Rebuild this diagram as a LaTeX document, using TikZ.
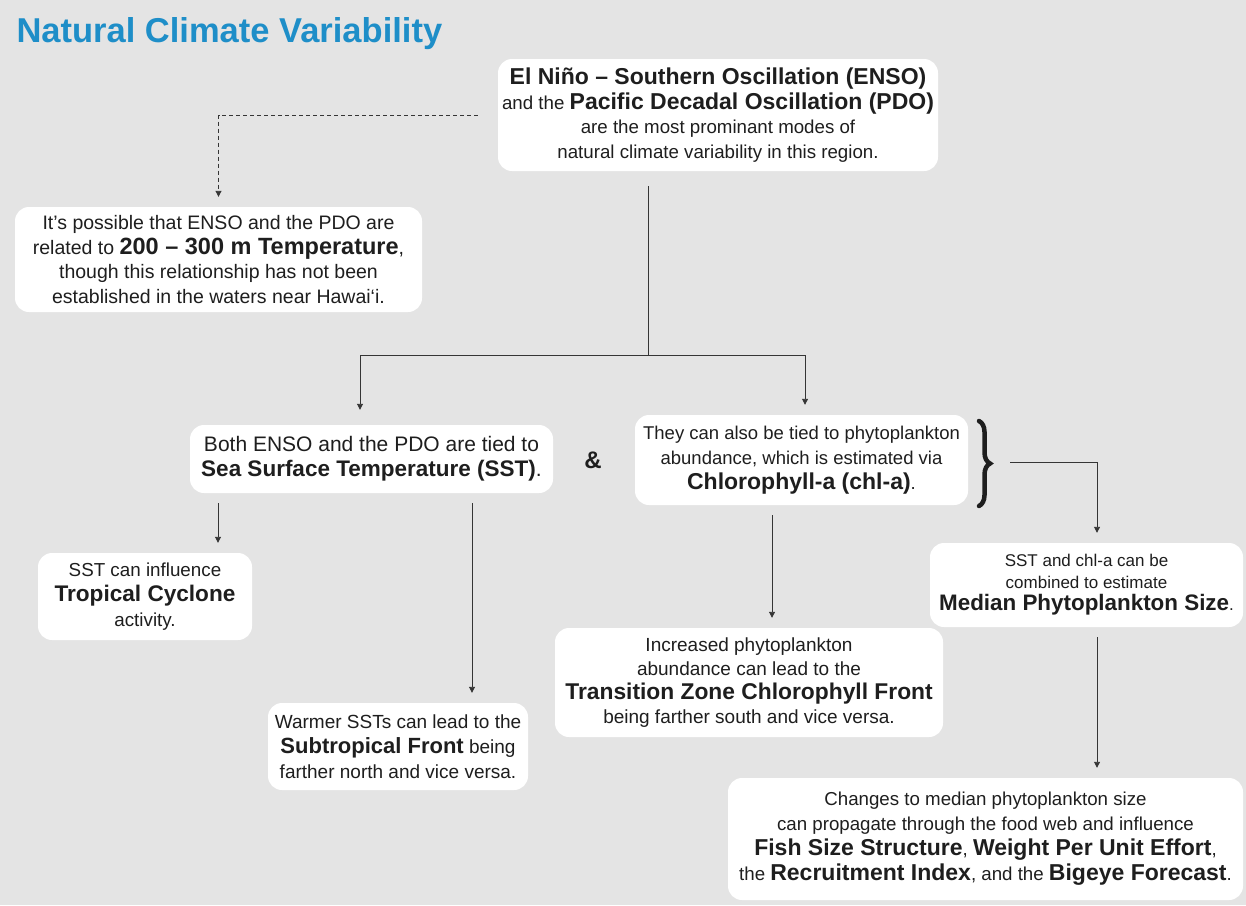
\documentclass[tikz,border=0pt]{standalone}
\usepackage{fontspec}
\setmainfont{Liberation Sans}
\usetikzlibrary{arrows.meta,decorations.pathreplacing}
\definecolor{bg}{RGB}{228,228,228}
\definecolor{titleblue}{RGB}{30,142,200}
\definecolor{ink}{RGB}{30,30,30}
% bold emphasis at a given size
\newcommand\hb[2]{{\bfseries\fontsize{#1}{#1}\selectfont #2}}

\begin{document}
\begin{tikzpicture}[x=1pt,y=-1pt,
  box/.style={fill=white, rounded corners=14pt, align=center, inner sep=0pt, text=ink},
  link/.style={draw=ink!90, line width=0.9pt},
  tip/.style={-{Triangle[width=6pt,length=6pt]}},
  arr/.style={link, tip, shorten <=10pt, shorten >=10pt}]
\fill[bg] (0,0) rectangle (1246,905);
\useasboundingbox (0,0) rectangle (1246,905);

\node[anchor=west, text=titleblue, font=\bfseries\fontsize{34.5}{40}\selectfont] (title) at (13,34) {Natural Climate Variability};

\node[box, minimum width=440pt, minimum height=112pt, font=\fontsize{18.7}{24.5}\selectfont] (enso) at (718,115)
  {\hb{23}{El Niño – Southern Oscillation (ENSO)}\\ and the \hb{23}{Pacific Decadal Oscillation (PDO)}\\ are the most prominant modes of\\ natural climate variability in this region.};

\node[box, minimum width=407pt, minimum height=105pt, font=\fontsize{19.5}{24.5}\selectfont] (deep) at (218.5,259.5)
  {It’s possible that ENSO and the PDO are\\ related to \hb{23.5}{200 – 300 m Temperature},\\ though this relationship has not been\\ established in the waters near Hawai‘i.};

\node[box, minimum width=363pt, minimum height=68pt, font=\fontsize{21}{25}\selectfont] (sst) at (371.5,459)
  {Both ENSO and the PDO are tied to\\ \hb{22.5}{Sea Surface Temperature (SST)}.};

\node[font=\bfseries\fontsize{24}{28}\selectfont, text=ink] (amp) at (593,460) {\&};

\node[box, minimum width=333pt, minimum height=90pt, font=\fontsize{18.5}{25}\selectfont] (chl) at (801.5,460)
  {They can also be tied to phytoplankton\\ abundance, which is estimated via\\ \hb{23}{Chlorophyll-a (chl-a)}.};

\node[box, minimum width=313pt, minimum height=84pt, font=\fontsize{17}{22}\selectfont] (med) at (1086.5,585)
  {SST and chl-a can be\\ combined to estimate\\ \hb{22.4}{Median Phytoplankton Size}.};

\node[box, minimum width=214pt, minimum height=87pt, font=\fontsize{18.8}{25}\selectfont] (tc) at (145,596.5)
  {SST can influence\\ \hb{22.6}{Tropical Cyclone}\\ activity.};

\node[box, minimum width=388pt, minimum height=109pt, font=\fontsize{19}{24}\selectfont] (tzcf) at (749,682.5)
  {Increased phytoplankton\\ abundance can lead to the\\ \hb{22.8}{Transition Zone Chlorophyll Front}\\ being farther south and vice versa.};

\node[box, minimum width=260pt, minimum height=87pt, font=\fontsize{19}{25}\selectfont] (stf) at (398,746.5)
  {Warmer SSTs can lead to the\\ \hb{22}{Subtropical Front} being\\ farther north and vice versa.};

\node[box, minimum width=515pt, minimum height=122pt, font=\fontsize{18.7}{25}\selectfont] (fish) at (985.5,839)
  {Changes to median phytoplankton size\\ can propagate through the food web and influence\\ \hb{23}{Fish Size Structure}, \hb{23}{Weight Per Unit Effort},\\ the \hb{23}{Recruitment Index}, and the \hb{23}{Bigeye Forecast}.};

% heavy curly brace grouping the two tied boxes
\draw[ink, line width=4.5pt, line cap=round, decorate, decoration={brace, amplitude=11pt}] (979,421) -- (979,506);
\coordinate (btip) at (1010,462);

% connectors
\draw[link, dashed, dash pattern=on 4pt off 3pt, tip, shorten <=20pt, shorten >=10pt] (enso.west) -| (deep.north);
\coordinate (split) at (648,355);
\draw[link, shorten <=15pt] (enso.south -| split) -- (split);
\draw[link, tip, shorten >=15pt] (split) -| ([xshift=-11.5pt]sst.north);
\draw[link, tip, shorten >=10pt] (split) -| ([xshift=3.5pt]chl.north);
\draw[link, tip, shorten >=10pt] (btip) -| ([xshift=10.5pt]med.north);
\draw[arr] ([xshift=-153.5pt]sst.south) -- ([xshift=-153.5pt]sst.south |- tc.north);
\draw[arr] ([xshift=100.5pt]sst.south) -- ([xshift=100.5pt]sst.south |- stf.north);
\draw[arr] ([xshift=-29.5pt]chl.south) -- ([xshift=-29.5pt]chl.south |- tzcf.north);
\draw[arr] ([xshift=10.5pt]med.south) -- ([xshift=10.5pt]med.south |- fish.north);
\end{tikzpicture}
\end{document}
